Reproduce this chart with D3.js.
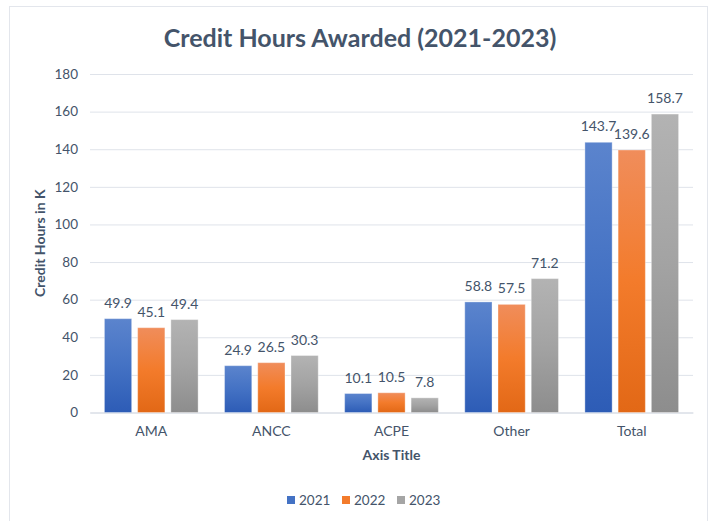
<!DOCTYPE html>
<html>
<head>
<meta charset="utf-8">
<script src="https://cdn.jsdelivr.net/npm/d3@7"></script>
<style>
  html, body { margin: 0; padding: 0; background: #ffffff; }
  svg { display: block; font-family: Lato, "Open Sans", sans-serif; }
</style>
</head>
<body>
<svg id="chart" width="714" height="521"></svg>
<script>
const categories = ["AMA", "ANCC", "ACPE", "Other", "Total"];
const years = ["2021", "2022", "2023"];
const values2021 = [49.9, 24.9, 10.1, 58.8, 143.7];
const values2022 = [45.1, 26.5, 10.5, 57.5, 139.6];
const values2023 = [49.4, 30.3, 7.8, 71.2, 158.7];
const yTicks = [0, 20, 40, 60, 80, 100, 120, 140, 160, 180];
const titleText = "Credit Hours Awarded (2021-2023)";
const yTitle = "Credit Hours in K";
const xTitle = "Axis Title";

const seriesValues = [values2021, values2022, values2023];
const gradients = [
  ["#5b84cd", "#4472c4", "#2d5cb6"],
  ["#f08d5b", "#f37b2b", "#e26816"],
  ["#b3b3b3", "#a3a3a3", "#8d8d8d"]
];
const legendColors = ["#4472c4", "#f37b2b", "#a5a5a5"];
const textColor = "#44546a";

const svg = d3.select("#chart");

// chart border
svg.append("rect")
  .attr("x", 9.5).attr("y", 6.5).attr("width", 698).attr("height", 530)
  .attr("fill", "#ffffff").attr("stroke", "#e3e6ec").attr("stroke-width", 1);

const defs = svg.append("defs");
gradients.forEach((g, i) => {
  const lg = defs.append("linearGradient").attr("id", "grad" + i)
    .attr("x1", "0").attr("y1", "0").attr("x2", "0").attr("y2", "1");
  lg.append("stop").attr("offset", "0%").attr("stop-color", g[0]);
  lg.append("stop").attr("offset", "50%").attr("stop-color", g[1]);
  lg.append("stop").attr("offset", "100%").attr("stop-color", g[2]);
});

const plotLeft = 90, plotRight = 693, plotTop = 74, plotBottom = 412.5;

const x = d3.scaleBand().domain(categories).range([plotLeft, plotRight])
  .paddingInner(0.22).paddingOuter(0.12);
const xs = d3.scaleBand().domain(years).range([0, x.bandwidth()])
  .paddingInner(0.18).paddingOuter(0);
const y = d3.scaleLinear().domain([0, 180]).range([plotBottom, plotTop]);

// gridlines
svg.append("g")
  .attr("transform", `translate(${plotLeft},0)`)
  .call(d3.axisLeft(y).tickValues(yTicks).tickSize(-(plotRight - plotLeft)).tickFormat(""))
  .call(g => g.select(".domain").remove())
  .call(g => g.selectAll(".tick line").attr("stroke", "#dfe3ea").attr("stroke-width", 1));

// y tick labels
svg.append("g")
  .attr("transform", `translate(${plotLeft - 12},0)`)
  .call(d3.axisLeft(y).tickValues(yTicks).tickSize(0).tickPadding(0))
  .call(g => g.select(".domain").remove())
  .call(g => g.selectAll(".tick text")
    .attr("fill", textColor).attr("font-size", "13.5px")
    .attr("font-family", "Lato, sans-serif"));

// x axis labels
svg.append("g")
  .attr("transform", `translate(0,${plotBottom})`)
  .call(d3.axisBottom(x).tickSize(0).tickPadding(14))
  .call(g => g.select(".domain").attr("stroke", "#d6dbe3"))
  .call(g => g.selectAll(".tick text")
    .attr("fill", textColor).attr("font-size", "14px")
    .attr("font-family", "Lato, sans-serif"));

// bars
const groups = svg.append("g").selectAll("g")
  .data(categories).join("g")
  .attr("transform", d => `translate(${x(d)},0)`);

years.forEach((yr, si) => {
  groups.append("rect")
    .attr("x", xs(yr))
    .attr("y", (d, i) => y(seriesValues[si][i]))
    .attr("width", xs.bandwidth())
    .attr("height", (d, i) => y(0) - y(seriesValues[si][i]))
    .attr("fill", `url(#grad${si})`)
    .attr("stroke", "#ffffff").attr("stroke-opacity", 0.35).attr("stroke-width", 1);

  groups.append("text")
    .attr("x", xs(yr) + xs.bandwidth() / 2)
    .attr("y", (d, i) => y(seriesValues[si][i]) - 11)
    .attr("text-anchor", "middle")
    .attr("fill", textColor).attr("font-size", "14px")
    .text((d, i) => seriesValues[si][i].toFixed(1));
});

// title
svg.append("text")
  .attr("x", 360).attr("y", 47)
  .attr("text-anchor", "middle")
  .attr("fill", textColor).attr("font-size", "25px").attr("font-weight", "bold")
  .text(titleText);

// y axis title
svg.append("text")
  .attr("transform", `translate(45,${(plotTop + plotBottom) / 2}) rotate(-90)`)
  .attr("text-anchor", "middle")
  .attr("fill", textColor).attr("font-size", "14px").attr("font-weight", "bold")
  .text(yTitle);

// x axis title
svg.append("text")
  .attr("x", (plotLeft + plotRight) / 2).attr("y", 460)
  .attr("text-anchor", "middle")
  .attr("fill", textColor).attr("font-size", "14px").attr("font-weight", "bold")
  .text(xTitle);

// legend
const legendX = [287, 342, 397];
const legend = svg.append("g").selectAll("g").data(years).join("g")
  .attr("transform", (d, i) => `translate(${legendX[i]},496)`);
legend.append("rect").attr("x", 0).attr("y", 0).attr("width", 8).attr("height", 8)
  .attr("fill", (d, i) => legendColors[i]);
legend.append("text").attr("x", 12).attr("y", 9)
  .attr("fill", textColor).attr("font-size", "13.5px")
  .text(d => d);
</script>
</body>
</html>
